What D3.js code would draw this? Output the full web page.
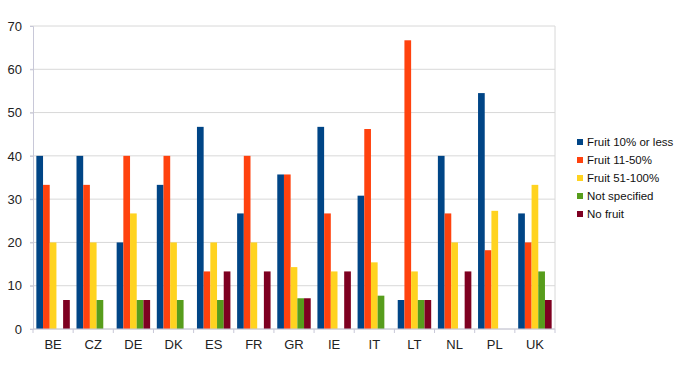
<!DOCTYPE html>
<html>
<head>
<meta charset="utf-8">
<script src="https://cdn.jsdelivr.net/npm/d3@7"></script>
<style>
  body { margin: 0; background: #fff; }
  svg { display: block; font-family: "Liberation Sans", Arial, sans-serif; }
</style>
</head>
<body>
<svg id="chart" width="680" height="390"></svg>
<script>
const countries = ["BE", "CZ", "DE", "DK", "ES", "FR", "GR", "IE", "IT", "LT", "NL", "PL", "UK"];
const seriesNames = ["Fruit 10% or less", "Fruit 11-50%", "Fruit 51-100%", "Not specified", "No fruit"];

const fruit10 = [40, 40, 20, 33.3, 46.7, 26.7, 35.7, 46.7, 30.8, 6.7, 40, 54.5, 26.7];
const fruit11to50 = [33.3, 33.3, 40, 40, 13.3, 40, 35.7, 26.7, 46.2, 66.7, 26.7, 18.2, 20];
const fruit51to100 = [20, 20, 26.7, 20, 20, 20, 14.3, 13.3, 15.4, 13.3, 20, 27.3, 33.3];
const notSpecified = [0, 6.7, 6.7, 6.7, 6.7, 0, 7.1, 0, 7.7, 6.7, 0, 0, 13.3];
const noFruit = [6.7, 0, 6.7, 0, 13.3, 13.3, 7.1, 13.3, 0, 6.7, 13.3, 0, 6.7];

const yTicks = [0, 10, 20, 30, 40, 50, 60, 70];

const allSeries = [fruit10, fruit11to50, fruit51to100, notSpecified, noFruit];
const colors = ["#004586", "#ff420e", "#ffd320", "#579d1c", "#7e0021"];

const margin = { top: 26, right: 125, bottom: 61, left: 33 };
const width = 680, height = 390;
const svg = d3.select("#chart");

const x = d3.scaleBand()
  .domain(countries)
  .range([margin.left, width - margin.right])
  .paddingInner(0)
  .paddingOuter(0);

const xs = d3.scaleBand()
  .domain(d3.range(seriesNames.length))
  .range([0, x.bandwidth()])
  .paddingOuter(0.5)
  .paddingInner(0);

const y = d3.scaleLinear()
  .domain([0, 70])
  .range([height - margin.bottom, margin.top]);

// gridlines
svg.append("g")
  .selectAll("line")
  .data(yTicks)
  .join("line")
  .attr("x1", margin.left - 3)
  .attr("x2", width - margin.right)
  .attr("y1", d => y(d))
  .attr("y2", d => y(d))
  .attr("stroke", "#d8d8d8")
  .attr("stroke-width", 1);

// right border
svg.append("line")
  .attr("x1", width - margin.right).attr("x2", width - margin.right)
  .attr("y1", y(70)).attr("y2", y(0))
  .attr("stroke", "#d8d8d8");

// bars
const groups = svg.append("g")
  .selectAll("g")
  .data(countries)
  .join("g")
  .attr("transform", d => `translate(${x(d)},0)`);

groups.selectAll("rect")
  .data((c, i) => allSeries.map((s, k) => ({ k, v: s[i] })))
  .join("rect")
  .attr("x", d => xs(d.k))
  .attr("width", xs.bandwidth())
  .attr("y", d => y(d.v))
  .attr("height", d => y(0) - y(d.v))
  .attr("fill", d => colors[d.k]);

// y axis
const yAxis = svg.append("g")
  .attr("transform", `translate(${margin.left},0)`)
  .call(d3.axisLeft(y).tickValues(yTicks).tickSize(3).tickPadding(8));
yAxis.select(".domain").attr("stroke", "#c8c8d8");
yAxis.selectAll(".tick line").attr("stroke", "#c8c8d8");
yAxis.selectAll("text").attr("font-size", 13).attr("fill", "#222");

// x axis with ticks on category boundaries
svg.append("line")
  .attr("x1", margin.left).attr("x2", width - margin.right)
  .attr("y1", y(0)).attr("y2", y(0))
  .attr("stroke", "#c8c8d8");
svg.append("g")
  .selectAll("line")
  .data(countries.concat(["end"]))
  .join("line")
  .attr("x1", (d, i) => margin.left + i * x.step())
  .attr("x2", (d, i) => margin.left + i * x.step())
  .attr("y1", y(0))
  .attr("y2", y(0) + 4)
  .attr("stroke", "#c8c8d8");
svg.append("g")
  .selectAll("text")
  .data(countries)
  .join("text")
  .attr("x", d => x(d) + x.bandwidth() / 2)
  .attr("y", y(0) + 20)
  .attr("text-anchor", "middle")
  .attr("font-size", 13)
  .attr("fill", "#222")
  .text(d => d);

// legend
const legend = svg.append("g")
  .attr("transform", "translate(577,142)")
  .selectAll("g")
  .data(seriesNames)
  .join("g")
  .attr("transform", (d, i) => `translate(0,${i * 18})`);
legend.append("rect")
  .attr("x", 0).attr("y", -3)
  .attr("width", 6).attr("height", 6)
  .attr("fill", (d, i) => colors[i]);
legend.append("text")
  .attr("x", 10).attr("y", 4)
  .attr("font-size", 11.5)
  .attr("fill", "#111")
  .text(d => d);
</script>
</body>
</html>
